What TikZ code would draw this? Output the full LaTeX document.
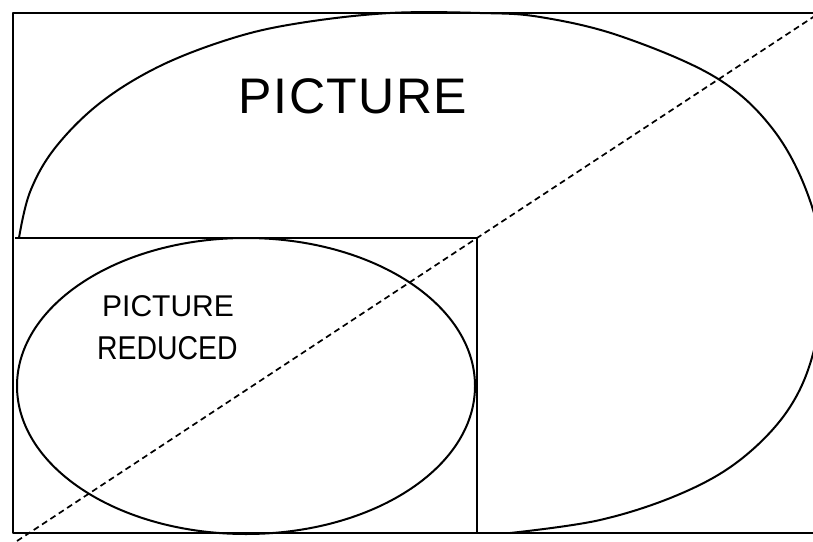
\documentclass[tikz,border=0pt]{standalone}
\usepackage{fontspec}
\setmainfont{Liberation Sans}
\begin{document}
\begin{tikzpicture}[x=1pt,y=-1pt,
  outline/.style={line width=2.2pt, line join=round},
  curve/.style={line width=2pt},
  diag/.style={line width=1.7pt, dash pattern=on 6pt off 4pt},
  bigtext/.style={inner sep=0pt, font=\fontsize{50}{50}\selectfont},
  smalltext/.style={inner sep=0pt, anchor=west}]
\useasboundingbox (0,0) rectangle (813,541);
% outer frame
\coordinate (otl) at (13,13);
\coordinate (otr) at (830,13);
\coordinate (obl) at (13,533);
\coordinate (obr) at (830,533);
\draw[outline] (otr) -- (otl) -- (obl) -- (obr);
% reduced frame
\coordinate (rtl) at (15,238);
\coordinate (rtr) at (477,238);
\coordinate (rbr) at (477,533);
\draw[outline] (rtl) -- (rtr) -- (rbr);
% big picture outline
\draw[curve] plot[smooth, tension=0.6] coordinates {
 (19,238) (30,192) (55,148) (100,103) (160,66) (233,38) (300,23) (390,13)
 (480,13) (540,17) (620,36) (715,77) (772,128) (808,195) (824,270)
 (814,350) (788,410) (740,460) (680,494) (600,520) (510,533)};
% reduced picture ellipse
\draw[curve] (246,386) ellipse[x radius=229, y radius=148];
% diagonal
\coordinate (dstart) at (17,541);
\coordinate (dend) at (830,6);
\draw[diag] (dstart) -- (rtr) -- (dend);
% labels
\node[bigtext] (pic) at (353,96) {\addfontfeatures{LetterSpace=3}PICTURE};
\node[smalltext, font=\fontsize{30}{30}\selectfont] (pr1) at (102,306) {PICTURE};
\node[smalltext, font=\fontsize{33}{33}\selectfont] (pr2) at (97,348) {\addfontfeatures{FakeStretch=0.86}REDUCED};
\end{tikzpicture}
\end{document}
